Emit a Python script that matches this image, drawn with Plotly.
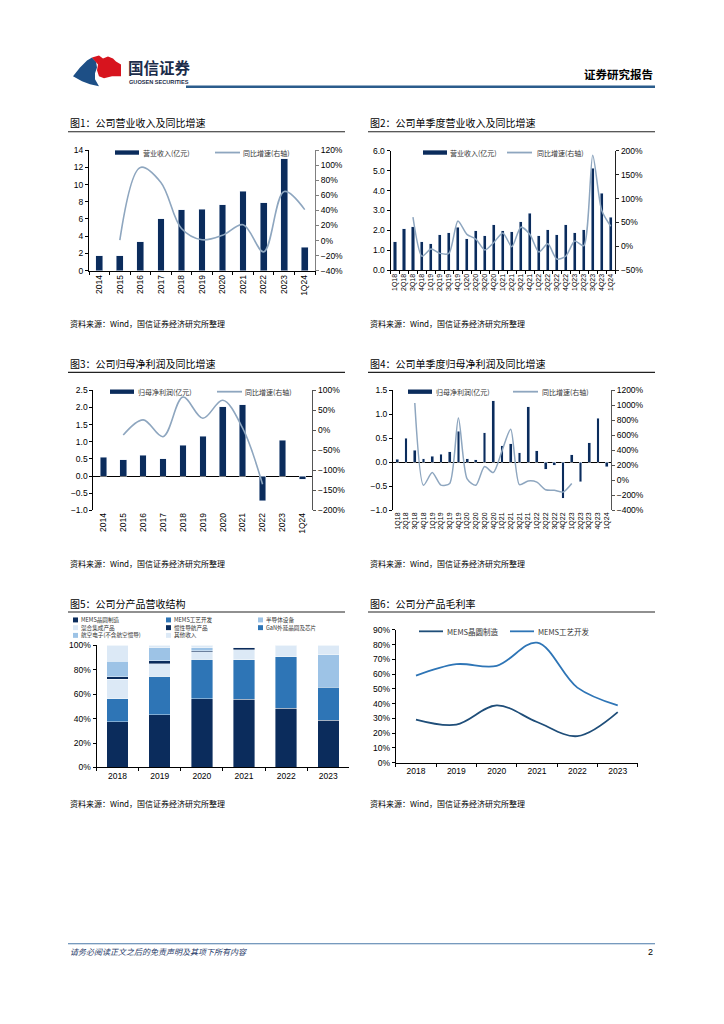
import plotly.graph_objects as go

# ---------------- data ----------------
years = ['2014', '2015', '2016', '2017', '2018', '2019', '2020', '2021', '2022', '2023', '1Q24']
revenue = [1.72, 1.72, 3.36, 6.00, 7.06, 7.14, 7.63, 9.24, 7.86, 12.98, 2.71]
revenue_yoy = [None, 0.5, 97, 77, 16, 1, 7, 21, -15, 65, 41]

quarters = ['1Q18', '2Q18', '3Q18', '4Q18', '1Q19', '2Q19', '3Q19', '4Q19',
            '1Q20', '2Q20', '3Q20', '4Q20', '1Q21', '2Q21', '3Q21', '4Q21',
            '1Q22', '2Q22', '3Q22', '4Q22', '1Q23', '2Q23', '3Q23', '4Q23', '1Q24']
revenue_q = [1.43, 2.08, 2.18, 1.43, 1.33, 1.78, 1.89, 2.16, 1.58, 1.98, 1.73, 2.28,
             1.98, 1.94, 2.43, 2.87, 1.73, 2.03, 1.78, 2.28, 1.88, 2.03, 5.12, 3.87, 2.67]
revenue_q_yoy = [None, None, 61, -21, -6, -15, -15, 53, 25, 15, -8, 8,
                 28, -1, 40, 25, -12, 5, -27, -21, 11, 1, 191, 75, 42]

profit = [0.55, 0.48, 0.60, 0.50, 0.90, 1.16, 2.02, 2.07, -0.72, 1.04, -0.10]
profit_yoy = [None, -12, 26, -16, 83, 30, 75, 5, -135, None, None]

profit_q = [0.06, 0.50, 0.25, 0.07, 0.12, 0.16, 0.22, 0.64, 0.07, 0.05, 0.61, 1.28,
            0.34, 0.38, 0.19, 1.15, 0.24, -0.15, -0.07, -0.75, 0.15, -0.41, 0.40, 0.92, -0.10]
profit_q_yoy = [None, None, 1030, -70, 100, -68, -45, 830, 15, -70, 180, 100,
                390, 680, -62, -12, -28, -130, -137, -160, -45, None, None, None, None]

seg_years = ['2018', '2019', '2020', '2021', '2022', '2023']
seg_names = ['MEMS晶圆制造', 'MEMS工艺开发', '半导体设备', '混合集成产品',
             '惯性导航产品', 'GaN外延晶圆及芯片', '航空电子(不含航空惯导)', '其他收入']
seg_wafer = [37.3, 43.2, 56.2, 55.9, 48.6, 38.6]
seg_process = [18.9, 31.4, 32.4, 32.2, 41.9, 27.1]
seg_equipment = [0, 0, 0, 0, 0, 26.7]
seg_hybrid = [16.2, 10.5, 6.0, 8.4, 0, 0]
seg_nav = [1.9, 2.5, 1.1, 1.9, 0, 0]
seg_gan = [0, 0, 0, 0, 0, 0]
seg_avionics = [12.7, 10.5, 2.2, 0, 0, 0]
seg_other = [13.0, 1.9, 2.1, 0, 9.5, 7.6]

gm_wafer = [29.1, 25.7, 38.7, 27.5, 17.9, 34.2]
gm_process = [58.9, 66.7, 65.6, 81.3, 50.8, 38.7]

# ---------------- style ----------------
W, H = 724, 1024
def px(x): return x / W
def py(y): return 1 - y / H

NUM_FONT = "Liberation Sans, Arial, sans-serif"
CJK_FONT = "Noto Sans CJK SC, sans-serif"
NAVY = "#0B2C5C"
MID = "#2E75B6"
LIGHT = "#9DC3E6"
PALE = "#DCE9F6"
GROWTH = "#8EA6BF"
HEAD_BLUE = "#2B5C8C"

seg_colors = [NAVY, MID, LIGHT, PALE, NAVY, MID, LIGHT, PALE]
seg_values = [seg_wafer, seg_process, seg_equipment, seg_hybrid, seg_nav, seg_gan, seg_avionics, seg_other]

fig = go.Figure()

# chart 1
fig.add_trace(go.Bar(x=years, y=revenue, xaxis='x', yaxis='y', marker_color=NAVY, width=0.33, showlegend=False))
fig.add_trace(go.Scatter(x=years, y=revenue_yoy, xaxis='x', yaxis='y2', mode='lines',
                         line=dict(color=GROWTH, width=1.6, shape='spline', smoothing=1.0), showlegend=False))
# chart 2
fig.add_trace(go.Bar(x=quarters, y=revenue_q, xaxis='x2', yaxis='y3', marker_color=NAVY, width=0.34, showlegend=False))
fig.add_trace(go.Scatter(x=quarters, y=revenue_q_yoy, xaxis='x2', yaxis='y4', mode='lines',
                         line=dict(color=GROWTH, width=1.5, shape='spline', smoothing=0.7), showlegend=False))
# chart 3
fig.add_trace(go.Bar(x=years, y=profit, xaxis='x3', yaxis='y5', marker_color=NAVY, width=0.33, showlegend=False))
fig.add_trace(go.Scatter(x=years, y=profit_yoy, xaxis='x3', yaxis='y6', mode='lines',
                         line=dict(color=GROWTH, width=1.6, shape='spline', smoothing=1.0), showlegend=False))
# chart 4
fig.add_trace(go.Bar(x=quarters, y=profit_q, xaxis='x4', yaxis='y7', marker_color=NAVY, width=0.32, showlegend=False))
fig.add_trace(go.Scatter(x=quarters, y=profit_q_yoy, xaxis='x4', yaxis='y8', mode='lines',
                         line=dict(color=GROWTH, width=1.5, shape='spline', smoothing=0.7), showlegend=False))
# chart 5
for name, vals, col in zip(seg_names, seg_values, seg_colors):
    fig.add_trace(go.Bar(x=seg_years, y=vals, name=name, xaxis='x5', yaxis='y9', marker_color=col,
                         marker_line=dict(color='white', width=0.4), width=0.51, showlegend=False))
# chart 6
fig.add_trace(go.Scatter(x=seg_years, y=gm_wafer, xaxis='x6', yaxis='y10', mode='lines', name='MEMS晶圆制造',
                         line=dict(color='#1F4E79', width=1.8, shape='spline', smoothing=1.0), showlegend=False))
fig.add_trace(go.Scatter(x=seg_years, y=gm_process, xaxis='x6', yaxis='y10', mode='lines', name='MEMS工艺开发',
                         line=dict(color=MID, width=1.8, shape='spline', smoothing=1.0), showlegend=False))

def tf(size=8.5):
    return dict(family=NUM_FONT, size=size, color='black')

def xcat(x0, x1, anchor, n, angle=0, size=8.5, showline=True, ticks='outside'):
    return dict(domain=[px(x0), px(x1)], anchor=anchor, type='category', range=[-0.5, n - 0.5],
                tickmode='linear', tick0=0, dtick=1,
                tickangle=angle, tickfont=tf(size), showline=showline, linecolor='black', linewidth=1,
                ticks=ticks, tickson='boundaries', ticklen=3, tickcolor='black',
                showgrid=False, zeroline=False, fixedrange=True)

def yleft(y0, y1, anchor, rng, dtick, fmt='', suffix='', zeroline=False):
    return dict(domain=[py(y0), py(y1)], anchor=anchor, range=rng, dtick=dtick, tick0=0,
                tickformat=fmt, ticksuffix=suffix, showline=True, linecolor='black', linewidth=1,
                ticks='outside', ticklen=3, tickcolor='black', showgrid=False,
                zeroline=zeroline, zerolinecolor='black', zerolinewidth=1, tickfont=tf(), fixedrange=True)

def yright(over, anchor, rng, dtick, color='#555555'):
    return dict(overlaying=over, side='right', anchor=anchor, range=rng, dtick=dtick, tick0=0,
                ticksuffix='%', showline=True, linecolor=color, linewidth=1, ticks='outside',
                ticklen=3, tickcolor=color, showgrid=False, zeroline=False, tickfont=tf(), fixedrange=True)

layout = dict(
    width=W, height=H, margin=dict(l=0, r=0, t=0, b=0),
    paper_bgcolor='white', plot_bgcolor='rgba(0,0,0,0)',
    barmode='stack', showlegend=False,
    font=dict(family=NUM_FONT, color='black'),
    xaxis=xcat(89, 315, 'y', len(years), angle=-90, size=8.5),
    yaxis=yleft(268.3, 146.5, 'x', [0, 14], 2),
    yaxis2=yright('y', 'x', [-40, 120], 20, color='#808080'),
    xaxis2=xcat(390.5, 615.2, 'y3', len(quarters), angle=-90, size=7),
    yaxis3=yleft(267.7, 147.3, 'x2', [0, 6], 1, fmt='.1f'),
    yaxis4=yright('y3', 'x2', [-50, 200], 50, color='#222222'),
    xaxis3=xcat(93.4, 312.3, 'y5', len(years), angle=-90, size=8.5, showline=False, ticks=''),
    yaxis5=yleft(510.3, 389, 'x3', [-1, 2.5], 0.5, fmt='.1f', zeroline=True),
    yaxis6=yright('y5', 'x3', [-200, 100], 50),
    xaxis4=xcat(393, 611, 'y7', len(quarters), angle=-90, size=7, showline=False, ticks=''),
    yaxis7=yleft(510, 389, 'x4', [-1, 1.5], 0.5, fmt='.1f', zeroline=True),
    yaxis8=yright('y7', 'x4', [-400, 1200], 200),
    xaxis5=xcat(96.5, 349.4, 'y9', len(seg_years), size=8.5),
    yaxis9=yleft(770, 646.7, 'x5', [0, 100], 20, suffix='%'),
    xaxis6=xcat(395.8, 637.9, 'y10', len(seg_years), size=8.5),
    yaxis10=yleft(765, 631, 'x6', [0, 90], 10, suffix='%'),
)
fig.update_layout(**layout)

shapes = []
annotations = []

def text(x, y, s, size=8, family=CJK_FONT, color='black', xanchor='left', yanchor='middle', pad=1):
    annotations.append(dict(x=px(x), y=py(y), xref='paper', yref='paper', text=s, showarrow=False,
                            xanchor=xanchor, yanchor=yanchor, align='left', borderpad=pad,
                            font=dict(family=family, size=size, color=color)))

def hline(x0, x1, y, color='black', width=1.0):
    shapes.append(dict(type='line', xref='paper', yref='paper', x0=px(x0), x1=px(x1), y0=py(y), y1=py(y),
                       line=dict(color=color, width=width)))

def rect(x0, x1, y0, y1, color):
    shapes.append(dict(type='rect', xref='paper', yref='paper', x0=px(x0), x1=px(x1), y0=py(y0), y1=py(y1),
                       line=dict(width=0), fillcolor=color))

def path(points, color):
    d = 'M ' + ' L '.join(f'{px(a):.5f},{py(b):.5f}' for a, b in points) + ' Z'
    shapes.append(dict(type='path', xref='paper', yref='paper', path=d, line=dict(width=0), fillcolor=color))

# header / logo
path([(73, 72), (80, 63), (87, 56), (92, 53), (96, 57), (97, 63), (95, 69), (95, 75), (99, 82), (90, 80), (82, 77)], '#1D4F86')
path([(92, 53), (99, 51), (103, 54), (108, 52), (113, 54), (116, 57), (121, 60), (121, 72), (112, 72), (104, 74), (99, 72), (97, 66), (98, 60)], '#D7141E')
text(126, 63, '<b>国信证券</b>', size=15.5, color='#1B2C4A')
text(126.5, 77.5, '<b>GUOSEN SECURITIES</b>', size=5.6, family=NUM_FONT, color='#1B2C4A')
text(655, 70, '<b>证券研究报告</b>', size=11.5, xanchor='right')
hline(186, 655, 82.5, color=HEAD_BLUE, width=2.4)

# figure titles + rules
titles = [
    (68, 119, 128, 345, '图1：公司营业收入及同比增速'),
    (368, 119, 128, 655, '图2：公司单季度营业收入及同比增速'),
    (68, 362, 371, 345, '图3：公司归母净利润及同比增速'),
    (368, 362, 371, 655, '图4：公司单季度归母净利润及同比增速'),
    (68, 604, 613, 345, '图5：公司分产品营收结构'),
    (368, 604, 613, 655, '图6：公司分产品毛利率'),
]
for x, y, ly, x1, t in titles:
    text(x, y, t, size=10)
    hline(x, x1, ly, color='#222222', width=1.2)

src = '资料来源：Wind，国信证券经济研究所整理'
for y in (322, 564, 806):
    text(68, y, src, size=8)
    text(368, y, src, size=8)

# legends for charts 1-4
def bar_line_legend(bx, tx1, lx, tx2, y, label1, label2):
    rect(bx, bx + 24, y - 2.2, y + 2.2, NAVY)
    text(tx1, y, label1, size=7, color='#333333')
    hline(lx, lx + 25, y, color=GROWTH, width=1.8)
    text(tx2, y, label2, size=7, color='#333333')

bar_line_legend(115, 141, 215, 241, 149, '营业收入(亿元)', '同比增速(右轴)')
bar_line_legend(423, 448, 507, 535, 149, '营业收入(亿元)', '同比增速(右轴)')
bar_line_legend(110, 136, 217, 243, 390.5, '归母净利润(亿元)', '同比增速(右轴)')
bar_line_legend(408, 434, 513, 540, 390.5, '归母净利润(亿元)', '同比增速(右轴)')

# legend chart 5 (3 columns, entries filled row by row)
cols = [73, 166, 258]
rows = [621, 628.8, 636.6]
for i, (name, col) in enumerate(zip(seg_names, seg_colors)):
    r, c = divmod(i, 3)
    x, y = cols[c], rows[r]
    rect(x, x + 5, y - 2.5, y + 2.5, col)
    text(x + 7, y, name, size=5.6, color='#333333', pad=0)

# legend chart 6
hline(419, 443, 632.5, color='#1F4E79', width=1.8)
text(445, 632.5, 'MEMS晶圆制造', size=7.5, color='#333333')
hline(510, 534, 632.5, color=MID, width=1.8)
text(536, 632.5, 'MEMS工艺开发', size=7.5, color='#333333')

# footer
hline(68, 655, 948, color='#4A78A8', width=1.2)
text(68, 956, '<i>请务必阅读正文之后的免责声明及其项下所有内容</i>', size=8, color='#1F3A68')
text(655, 956, '2', size=9, family=NUM_FONT, xanchor='right')

fig.update_layout(shapes=shapes, annotations=annotations)

fig.write_html("out.html", config={'displayModeBar': False, 'staticPlot': True},
               post_script="document.body.style.margin='0';")
